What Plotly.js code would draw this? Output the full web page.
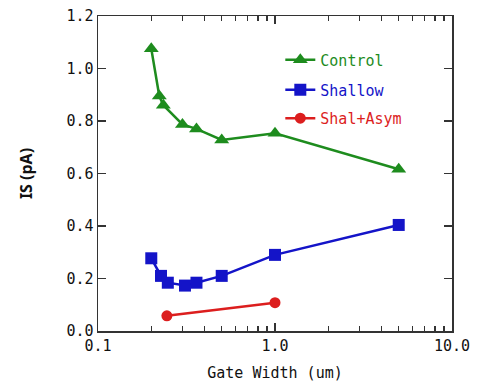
<!DOCTYPE html>
<html><head><meta charset="utf-8">
<script src="https://cdn.plot.ly/plotly-3.0.1.min.js"></script>
<style>body{margin:0;padding:0;background:#fff}</style>
</head><body><div id="chart" style="width:486px;height:390px"></div>
<script>
const controlX = [0.2, 0.222, 0.234, 0.3, 0.36, 0.5, 1.0, 5.0];
const controlY = [1.075, 0.895, 0.86, 0.787, 0.77, 0.728, 0.753, 0.616];
const shallowX = [0.2, 0.227, 0.248, 0.31, 0.36, 0.5, 1.0, 5.0];
const shallowY = [0.277, 0.21, 0.184, 0.173, 0.184, 0.21, 0.29, 0.404];
const asymX = [0.245, 1.0];
const asymY = [0.058, 0.108];
const xTickVals = [0.1, 1, 10];
const xTickText = ['0.1', '1.0', '10.0'];
const xMinor = [0.2,0.3,0.4,0.5,0.6,0.7,0.8,0.9,2,3,4,5,6,7,8,9];

const green = '#1e8c1e', blue = '#1414c8', red = '#dc1e1e';
const mono = 'DejaVu Sans Mono, monospace';

const traces = [
  {x: controlX, y: controlY, name: '<span style="color:'+green+'">Control</span>', mode: 'lines+markers',
   line: {color: green, width: 2.5}, marker: {symbol: 'triangle-up', size: 13, color: green}, legend: 'legend'},
  {x: shallowX, y: shallowY, name: '<span style="color:'+blue+'">Shallow</span>', mode: 'lines+markers',
   line: {color: blue, width: 2.5}, marker: {symbol: 'square', size: 12, color: blue}, legend: 'legend2'},
  {x: asymX, y: asymY, name: '<span style="color:'+red+'">Shal+Asym</span>', mode: 'lines+markers',
   line: {color: red, width: 2.5}, marker: {symbol: 'circle', size: 11, color: red}, legend: 'legend3'},
  {x: controlX, y: controlY, xaxis: 'x2', mode: 'none', showlegend: false, hoverinfo: 'skip'}
];

const legBase = {x: 0.515, xanchor: 'left', yanchor: 'middle', bgcolor: 'rgba(0,0,0,0)', font: {family: mono, size: 15}};
const layout = {
  width: 486, height: 390,
  margin: {l: 98, r: 34, t: 16, b: 59},
  paper_bgcolor: '#fff', plot_bgcolor: '#fff',
  font: {family: mono, size: 15, color: '#111'},
  xaxis: {type: 'log', range: [-1, 1], tickvals: xTickVals, ticktext: xTickText,
    ticks: 'inside', ticklen: 8, tickwidth: 1.3, tickcolor: '#333', mirror: true,
    showline: true, linecolor: '#333', linewidth: 1.5, showgrid: false, zeroline: false,
    minor: {tickvals: xMinor, ticks: 'inside', ticklen: 5, tickwidth: 1.3, tickcolor: '#333', showgrid: false},
    title: {text: 'Gate Width (um)', font: {family: mono, size: 15, color: '#111'}, standoff: 14}},
  xaxis2: {type: 'log', range: [-1, 1], overlaying: 'x', side: 'top', tickvals: xTickVals, ticktext: ['', '', ''],
    ticks: 'inside', ticklen: 8, tickwidth: 1.3, tickcolor: '#333', showline: false, showgrid: false, zeroline: false,
    minor: {tickvals: xMinor, ticks: 'inside', ticklen: 5, tickwidth: 1.3, tickcolor: '#333', showgrid: false}},
  yaxis: {range: [0, 1.2], dtick: 0.2, tickformat: '.1f',
    ticks: 'inside', ticklen: 8, tickwidth: 1.3, tickcolor: '#333', mirror: 'ticks',
    showline: true, linecolor: '#333', linewidth: 1.5, showgrid: false, zeroline: false,
    title: {text: '<b>IS (pA)</b>', font: {family: 'Noto Sans, sans-serif', size: 16, color: '#111'}, standoff: 30}},
  legend: Object.assign({}, legBase, {y: 0.86}),
  legend2: Object.assign({}, legBase, {y: 0.765}),
  legend3: Object.assign({}, legBase, {y: 0.675}),
  showlegend: true
};
Plotly.newPlot('chart', traces, layout, {displayModeBar: false, staticPlot: true});
</script></body></html>
